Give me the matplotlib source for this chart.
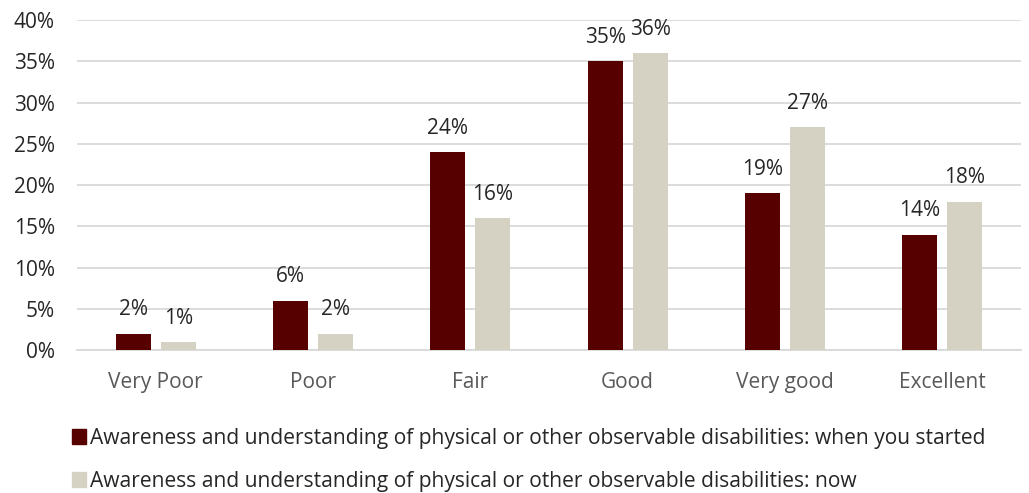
import numpy as np
import matplotlib.pyplot as plt
from matplotlib.patches import Patch

plt.rcParams['font.family'] = ['Open Sans', 'DejaVu Sans']

# datos de la encuesta (porcentajes)
categorias = ['Very Poor', 'Poor', 'Fair', 'Good', 'Very good', 'Excellent']
al_inicio = [2, 6, 24, 35, 19, 14]
ahora = [1, 2, 16, 36, 27, 18]
ticks_y = [0, 5, 10, 15, 20, 25, 30, 35, 40]
serie_inicio = 'Awareness and understanding of physical or other observable disabilities: when you started'
serie_ahora = 'Awareness and understanding of physical or other observable disabilities: now'

color_inicio = '#560000'
color_ahora = '#d6d2c3'

fig = plt.figure(figsize=(10.29, 4.93), dpi=100)
ax = fig.add_axes([0.0748, 0.29, 0.9174, 0.6694])

x = np.arange(len(categorias))
ancho = 0.222
b1 = ax.bar(x - 0.143, al_inicio, ancho, color=color_inicio, zorder=3)
b2 = ax.bar(x + 0.143, ahora, ancho, color=color_ahora, zorder=3)

# etiquetas de valor encima de cada barra
for barras, valores in [(b1, al_inicio), (b2, ahora)]:
    for b, v in zip(barras, valores):
        ax.annotate(f'{v}%', (b.get_x() + b.get_width() / 2, v), xytext=(0, 13),
                    textcoords='offset points', ha='center', va='baseline',
                    fontsize=15, color='#262626')

ax.set_xlim(-0.5, len(categorias) - 0.5)
ax.set_ylim(0, 40)
ax.set_yticks(ticks_y)
ax.set_yticklabels([f'{t}%' for t in ticks_y], fontsize=15, color='#262626')
ax.set_xticks(x)
ax.set_xticklabels(categorias, fontsize=15, color='#595959')
ax.tick_params(length=0)
ax.tick_params(axis='y', pad=16)
ax.tick_params(axis='x', pad=16)
ax.grid(axis='y', color='#d9d9d9', linewidth=1.3, zorder=0)
for s in ['top', 'right', 'left']:
    ax.spines[s].set_visible(False)
ax.spines['bottom'].set_color('#d9d9d9')
ax.spines['bottom'].set_linewidth(1.3)

manejadores = [Patch(color=color_inicio, label=serie_inicio),
               Patch(color=color_ahora, label=serie_ahora)]
fig.legend(handles=manejadores, loc='upper left', bbox_to_anchor=(0.07, 0.132),
           frameon=False, fontsize=15.1, handlelength=0.68, handleheight=0.68,
           handletextpad=0.2, labelspacing=1.05, labelcolor='#262626',
           borderaxespad=0, borderpad=0)

fig.savefig('out.png', dpi=100)
